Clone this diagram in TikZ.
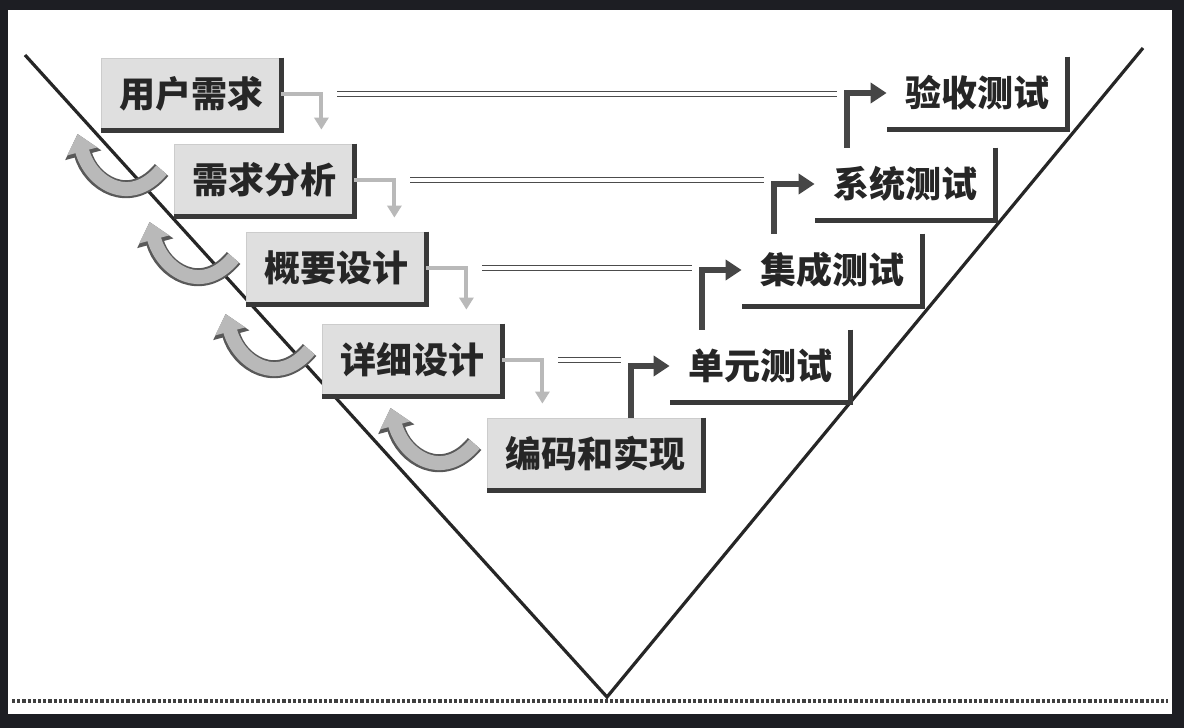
\documentclass[tikz,border=0pt]{standalone}
\usepackage{fontspec}
\newfontfamily\cjk{Noto Sans CJK SC}
\usetikzlibrary{arrows.meta}
\definecolor{frame}{HTML}{1D1E23}
\begin{document}
\begin{tikzpicture}[x=0.5pt, y=-0.5pt,
  stage_style/.style={rectangle, fill=gray!25, draw=gray!40, inner xsep=9pt, minimum height=36pt, text=black!85, font=\cjk\bfseries\fontsize{18}{20}\selectfont},
  test_style/.style={rectangle, fill=white, inner xsep=9pt, minimum height=36pt, text=black!85, font=\cjk\bfseries\fontsize{18}{20}\selectfont},
  shade_style/.style={draw=gray!45!black, line width=2.5pt},
  flow_style/.style={draw=gray!55, line width=2pt, -{Triangle[width=7pt,length=6pt]}},
  link_style/.style={draw=gray!60!black, double=white, double distance=1.6pt, line width=0.5pt},
  up_style/.style={draw=gray!55!black, line width=3pt, -{Triangle[width=10pt,length=8pt]}},
  back_style/.style={draw=gray!55, line width=7pt, -{Triangle[width=15pt,length=9pt]}, preaction={draw=black!65, line width=9pt, -{Triangle[width=18pt,length=11pt]}}}]
  % frame and the V
  \useasboundingbox (0,0) rectangle (1184,728);
  \fill[frame] (0,0) rectangle (1184,728);
  \fill[white] (8,10) rectangle (1172,714);
  \coordinate (v_left) at (25,55);
  \coordinate (v_tip) at (607,697);
  \coordinate (v_right) at (1143,48);
  \coordinate (base_l) at (12,701);
  \coordinate (base_r) at (1168,701);
  \draw[line width=1.6pt, black!85] (v_left) -- (v_tip) -- (v_right);
  \draw[densely dotted, line width=1.6pt, black!75] (base_l) -- (base_r);
  \draw
    (191,94) node[stage_style] (ur){用户需求}
    (264,180) node[stage_style] (xq){需求分析}
    (336,268) node[stage_style] (gy){概要设计}
    (412,360) node[stage_style] (xx){详细设计}
    (595,454) node[stage_style] (bm){编码和实现}
    (977,93) node[test_style] (ys){验收测试}
    (905,184) node[test_style] (xt){系统测试}
    (832,270) node[test_style] (jc){集成测试}
    (760,366) node[test_style] (dy){单元测试};
  \foreach \n in {ur,xq,gy,xx,bm,ys,xt,jc,dy}
    \draw[shade_style] (\n.north east) -- (\n.south east) -- (\n.south west);
  \coordinate (ys_in) at ([xshift=16pt]xt.north west);
  \coordinate (xt_in) at ([xshift=16pt]jc.north west);
  \coordinate (jc_in) at ([xshift=16pt]dy.north west);
  \coordinate (dy_in) at ([xshift=18pt]bm.north);
  \begin{scope}
    \draw[flow_style] (ur.east) -| ([xshift=20pt,yshift=7pt]ur.east |- xq.north);
    \draw[flow_style] (xq.east) -| ([xshift=20pt,yshift=7pt]xq.east |- gy.north);
    \draw[flow_style] (gy.east) -| ([xshift=20pt,yshift=7pt]gy.east |- xx.north);
    \draw[flow_style] (xx.east) -| ([xshift=20pt,yshift=7pt]xx.east |- bm.north);
    \draw[link_style] ([xshift=28pt]ur.east) -- ([xshift=-5pt]ur.east -| ys_in);
    \draw[link_style] ([xshift=28pt]xq.east) -- ([xshift=-5pt]xq.east -| xt_in);
    \draw[link_style] ([xshift=28pt]gy.east) -- ([xshift=-5pt]gy.east -| jc_in);
    \draw[link_style] ([xshift=28pt]xx.east) -- ([xshift=-5pt]xx.east -| dy_in);
    \draw[up_style] (ys_in) |- (ys.west);
    \draw[up_style] (xt_in) |- (xt.west);
    \draw[up_style] (jc_in) |- (jc.west);
    \draw[up_style] (dy_in) |- (dy.west);
  \end{scope}
  \foreach \n in {xq,gy,xx,bm}
    \draw[back_style] ([xshift=-6pt,yshift=5pt]\n.west) to[out=230, in=-75, looseness=1.4] ++(-42pt,18pt);
\end{tikzpicture}
\end{document}
